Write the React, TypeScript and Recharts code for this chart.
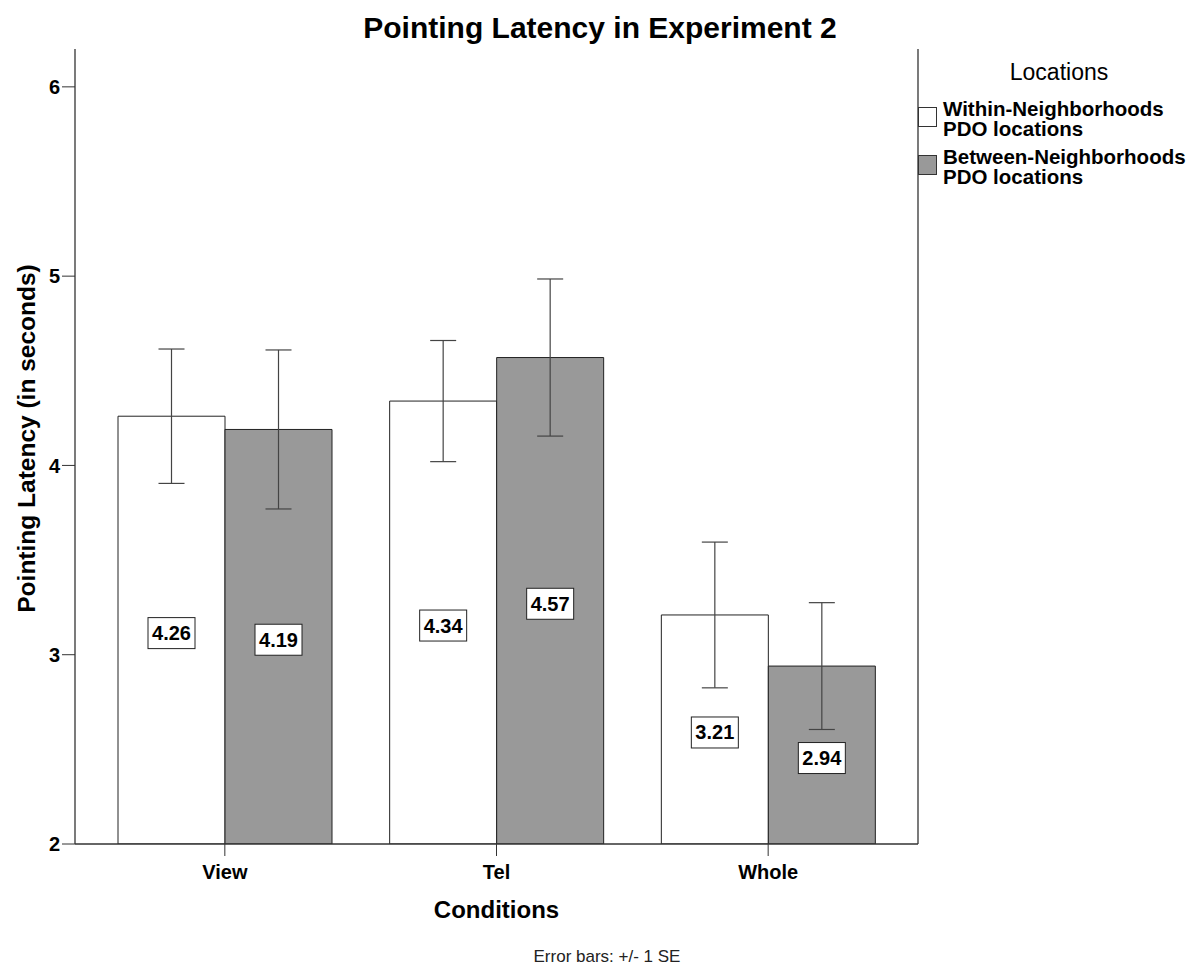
import React from 'react';
import { BarChart, Bar, XAxis, YAxis, ErrorBar, LabelList, Legend } from 'recharts';

const categories = ['View', 'Tel', 'Whole'];
const withinMeans = [4.26, 4.34, 3.21];
const betweenMeans = [4.19, 4.57, 2.94];
const withinSE = [0.355, 0.32, 0.385];
const betweenSE = [0.42, 0.415, 0.335];
const yTicks = [2, 3, 4, 5, 6];

const seriesNames = ['Within-Neighborhoods PDO locations', 'Between-Neighborhoods PDO locations'];
const seriesFills = ['#ffffff', '#999999'];

const data = categories.map((c, i) => ({
  condition: c,
  within: withinMeans[i],
  withinErr: withinSE[i],
  between: betweenMeans[i],
  betweenErr: betweenSE[i],
}));

const FONT = 'Arial, "Liberation Sans", Helvetica, sans-serif';

// boxed value label in the middle of each bar
const ValueLabel = (props: any) => {
  const { x, y, width, height, value } = props;
  const cx = x + width / 2;
  const cy = y + height / 2 + 3;
  return (
    <g>
      <rect x={cx - 23.5} y={cy - 15.5} width={47} height={31} fill="#fff" stroke="#222" strokeWidth={1} />
      <text x={cx} y={cy + 7} textAnchor="middle" fontSize={20} fontWeight="bold" fontFamily={FONT} fill="#000">
        {Number(value).toFixed(2)}
      </text>
    </g>
  );
};

const renderLegend = (props: any) => {
  const payload = props.payload || [];
  return (
    <div style={{ position: 'relative', width: 282, height: 200, fontFamily: FONT, color: '#000' }}>
      <div style={{ position: 'absolute', left: 0, top: 59, width: 282, textAlign: 'center', fontSize: 23, lineHeight: '26px' }}>
        Locations
      </div>
      {payload.map((p: any) => {
        const i = Math.max(0, seriesNames.indexOf(p.value));
        return (
          <div key={p.value} style={{ position: 'absolute', left: 0, top: 98.7 + i * 48, width: 282 }}>
            <div
              style={{
                position: 'absolute', left: 0, top: 8, width: 19, height: 20,
                boxSizing: 'border-box', border: '1px solid #333', background: seriesFills[i],
              }}
            />
            <div style={{ position: 'absolute', left: 25, top: 0, width: 250, fontSize: 20.5, fontWeight: 'bold', lineHeight: '20px' }}>
              {p.value}
            </div>
          </div>
        );
      })}
    </div>
  );
};

const axisStroke = { stroke: '#333', strokeWidth: 1.3 };

export default function App() {
  return (
    <div style={{ position: 'absolute', left: 0, top: 0, width: 1200, height: 966, background: '#fff', fontFamily: FONT }}>
      <BarChart
        width={1200}
        height={966}
        data={data}
        margin={{ top: 49, right: 281, bottom: 92, left: 15 }}
        barGap={0}
      >
        <XAxis
          dataKey="condition"
          height={30}
          padding={{ left: 14, right: 14 }}
          tickSize={12}
          tickMargin={9}
          axisLine={axisStroke}
          tickLine={{ stroke: '#333' }}
          tick={{ fontSize: 20, fontWeight: 'bold', fill: '#000', fontFamily: FONT }}
          label={{ value: 'Conditions', position: 'bottom', offset: 27, fontSize: 24, fontWeight: 'bold', fill: '#000', fontFamily: FONT }}
        />
        <XAxis xAxisId="top" dataKey="condition" orientation="top" height={0} tick={false} tickLine={false} axisLine={axisStroke} />
        <YAxis
          type="number"
          domain={[2, 6.2]}
          ticks={yTicks}
          allowDataOverflow
          width={60}
          tickSize={13}
          tickMargin={2}
          axisLine={axisStroke}
          tickLine={{ stroke: '#333' }}
          tick={{ fontSize: 20, fontWeight: 'bold', fill: '#000', fontFamily: FONT }}
          label={{
            value: 'Pointing Latency (in seconds)', angle: -90, position: 'insideLeft', offset: 11, dy: -8,
            style: { textAnchor: 'middle' }, fontSize: 24.5, fontWeight: 'bold', fill: '#000', fontFamily: FONT,
          }}
        />
        <YAxis
          yAxisId="right"
          orientation="right"
          type="number"
          width={1}
          domain={[2, 6.2]}
          ticks={yTicks}
          tick={false}
          tickLine={false}
          axisLine={axisStroke}
        />
        <Legend
          layout="vertical"
          align="center"
          verticalAlign="middle"
          content={renderLegend}
          wrapperStyle={{ left: 918, top: 0, width: 282, height: 200 }}
        />
        <Bar dataKey="within" name={seriesNames[0]} fill={seriesFills[0]} stroke="#222" strokeWidth={1} barSize={107} isAnimationActive={false}>
          <LabelList dataKey="within" content={ValueLabel} />
          <ErrorBar dataKey="withinErr" direction="y" width={13} stroke="#444" strokeWidth={1.2} />
        </Bar>
        <Bar dataKey="between" name={seriesNames[1]} fill={seriesFills[1]} stroke="#222" strokeWidth={1} barSize={107} isAnimationActive={false}>
          <LabelList dataKey="between" content={ValueLabel} />
          <ErrorBar dataKey="betweenErr" direction="y" width={13} stroke="#444" strokeWidth={1.2} />
        </Bar>
      </BarChart>
      <div style={{ position: 'absolute', left: 0, top: 12.6, width: 1200, textAlign: 'center', fontSize: 30, lineHeight: '30px', fontWeight: 'bold', color: '#000' }}>
        Pointing Latency in Experiment 2
      </div>
      <div style={{ position: 'absolute', left: 7, top: 947.6, width: 1200, textAlign: 'center', fontSize: 17, lineHeight: '17px', color: '#222' }}>
        Error bars: +/- 1 SE
      </div>
    </div>
  );
}
